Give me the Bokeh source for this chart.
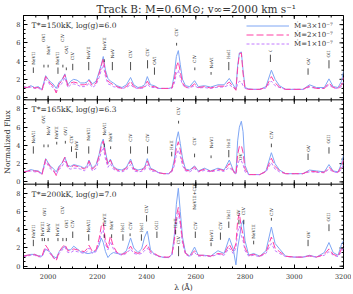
import math
from bokeh.plotting import figure
from bokeh.models import FixedTicker, Range1d, Span, Legend, LegendItem
from bokeh.core.properties import value
from bokeh.embed import file_html
from bokeh.resources import INLINE

# ---------------- data ----------------
wavelength = [
    1900, 1915, 1930, 1945, 1960, 1975, 1990, 2000, 2010, 2020,
    2033, 2045, 2055, 2068, 2080, 2092, 2104, 2118, 2132, 2147,
    2158, 2166, 2180, 2195, 2207, 2216, 2224, 2233, 2243, 2253,
    2265, 2280, 2300, 2318, 2335, 2348, 2365, 2380, 2392, 2403,
    2416, 2432, 2450, 2470, 2490, 2503, 2513, 2521, 2529, 2537,
    2546, 2558, 2575, 2595, 2610, 2635, 2660, 2690, 2715, 2736,
    2752, 2763, 2770, 2777, 2785, 2792, 2800, 2815, 2835, 2860,
    2885, 2907, 2922, 2940, 2965, 3000, 3035, 3062, 3090, 3122,
    3141, 3158, 3178, 3192, 3200]

# T*=150kK, log(g)=6.0
flux150_m3 = [
    1.2, 1.1, 1.3, 1.1, 1.2, 0.9, 2.4, 2.0, 1.7, 1.5,
    1.0, 1.7, 1.9, 2.6, 1.4, 1.8, 2.0, 1.9, 1.6, 1.6,
    1.7, 2.0, 1.5, 1.8, 2.8, 3.6, 4.5, 3.0, 2.1, 1.8,
    1.6, 1.3, 1.1, 1.4, 2.2, 1.4, 1.1, 1.2, 1.4, 2.3,
    1.4, 1.3, 1.0, 1.0, 1.0, 1.1, 2.6, 4.5, 5.15, 3.6,
    2.0, 1.3, 1.2, 1.85, 1.2, 1.3, 1.15, 1.4, 1.4, 2.1,
    1.4, 0.9, 3.5, 4.9, 5.0, 3.0, 1.1, 0.95, 0.9, 0.9,
    1.2, 3.0, 2.0, 1.3, 0.9, 0.9, 0.9, 1.4, 1.1, 1.1,
    2.05, 1.2, 1.1, 1.8, 2.9]
flux150_m2 = [
    1.15, 1.1, 1.25, 1.05, 1.1, 0.8, 2.3, 1.9, 1.5, 1.3,
    0.5, 1.5, 1.8, 2.5, 1.3, 1.6, 1.7, 1.6, 1.4, 1.4,
    1.5, 1.9, 1.3, 1.6, 2.6, 3.5, 4.3, 2.7, 1.8, 1.6,
    1.4, 1.2, 1.0, 1.2, 1.8, 1.2, 1.0, 1.1, 1.2, 1.8,
    1.2, 1.2, 1.0, 1.0, 1.0, 1.05, 2.0, 3.4, 3.95, 2.8,
    1.6, 1.15, 1.1, 1.5, 1.1, 1.2, 1.05, 1.25, 1.25, 1.7,
    1.2, 0.8, 3.2, 4.8, 4.9, 2.6, 1.0, 0.9, 0.9, 0.9,
    1.1, 2.3, 1.6, 1.15, 0.9, 0.9, 0.9, 1.25, 1.0, 1.0,
    1.6, 1.1, 1.0, 1.4, 2.2]
flux150_m1 = [
    1.1, 1.05, 1.15, 1.0, 1.05, 0.8, 2.0, 1.7, 1.3, 1.1,
    0.7, 1.3, 1.5, 2.2, 1.1, 1.4, 1.5, 1.4, 1.2, 1.2,
    1.3, 1.6, 1.1, 1.4, 2.2, 3.0, 3.6, 2.3, 1.5, 1.4,
    1.2, 1.1, 1.0, 1.1, 1.4, 1.1, 1.0, 1.0, 1.1, 1.5,
    1.1, 1.1, 1.0, 1.0, 1.0, 1.0, 1.6, 2.6, 3.0, 2.2,
    1.4, 1.1, 1.05, 1.3, 1.05, 1.1, 1.0, 1.15, 1.15, 1.4,
    1.1, 0.9, 1.5, 1.8, 1.7, 1.3, 1.0, 0.9, 0.9, 0.9,
    1.05, 1.8, 1.3, 1.1, 0.9, 0.9, 0.9, 1.15, 1.0, 1.0,
    1.4, 1.05, 1.0, 1.2, 1.7]

# T*=165kK, log(g)=6.3
flux165_m3 = [
    1.1, 1.2, 1.35, 1.25, 1.2, 0.9, 2.55, 2.1, 1.7, 1.5,
    1.1, 1.75, 2.0, 2.7, 1.8, 1.7, 1.9, 1.8, 1.7, 1.5,
    1.8, 2.4, 1.5, 1.9, 3.0, 4.2, 4.7, 3.3, 2.0, 2.5,
    1.7, 1.4, 1.3, 1.6, 2.5, 1.5, 1.3, 1.4, 1.6, 2.55,
    1.5, 1.3, 1.0, 0.9, 0.9, 1.3, 2.5, 4.6, 5.5, 4.2,
    2.6, 1.4, 1.3, 1.75, 1.2, 1.5, 1.2, 1.5, 1.3, 2.4,
    1.3, 0.9, 4.5, 6.0, 6.65, 5.5, 1.8, 0.8, 0.8, 0.8,
    1.2, 3.2, 2.0, 1.3, 0.9, 0.9, 0.9, 1.3, 1.2, 1.1,
    1.9, 1.2, 1.1, 2.0, 2.9]
flux165_m2 = [
    1.1, 1.15, 1.3, 1.2, 1.15, 0.8, 2.5, 2.0, 1.6, 1.4,
    0.7, 1.6, 1.9, 2.7, 1.7, 1.6, 1.8, 1.7, 1.6, 1.4,
    1.7, 2.3, 1.4, 1.8, 2.8, 3.9, 4.5, 3.0, 1.9, 2.4,
    1.6, 1.3, 1.2, 1.5, 2.3, 1.4, 1.2, 1.3, 1.5, 2.3,
    1.4, 1.25, 1.0, 0.9, 0.9, 1.2, 2.1, 3.7, 4.4, 3.5,
    2.2, 1.3, 1.2, 1.65, 1.15, 1.4, 1.15, 1.4, 1.25, 2.0,
    1.2, 0.8, 3.0, 3.9, 4.0, 3.2, 1.4, 0.8, 0.8, 0.8,
    1.15, 2.6, 1.7, 1.2, 0.9, 0.9, 0.9, 1.2, 1.1, 1.05,
    1.6, 1.15, 1.05, 1.7, 2.4]
flux165_m1 = [
    1.05, 1.1, 1.2, 1.1, 1.1, 0.8, 2.2, 1.8, 1.4, 1.2,
    0.8, 1.4, 1.6, 2.3, 1.5, 1.4, 1.5, 1.5, 1.4, 1.2,
    1.5, 2.0, 1.2, 1.5, 2.4, 3.3, 3.8, 2.5, 1.6, 2.0,
    1.4, 1.2, 1.1, 1.3, 1.9, 1.2, 1.1, 1.15, 1.3, 1.9,
    1.2, 1.15, 1.0, 0.9, 0.9, 1.1, 1.8, 3.0, 3.5, 2.8,
    1.8, 1.2, 1.1, 1.45, 1.1, 1.25, 1.1, 1.25, 1.15, 1.6,
    1.1, 0.85, 1.9, 2.4, 2.3, 1.9, 1.1, 0.8, 0.8, 0.8,
    1.1, 2.1, 1.4, 1.1, 0.9, 0.9, 0.9, 1.1, 1.05, 1.0,
    1.4, 1.1, 1.0, 1.4, 2.0]

# T*=200kK, log(g)=7.0
flux200_m3 = [
    1.15, 1.2, 1.3, 1.3, 1.15, 1.1, 1.85, 1.7, 1.5, 1.1,
    0.9, 1.6, 1.9, 2.2, 1.8, 1.8, 2.2, 1.9, 1.6, 1.5,
    1.4, 1.4, 1.5, 1.7, 2.3, 3.1, 2.6, 1.6, 0.95, 1.3,
    1.5, 1.4, 1.3, 1.7, 3.1, 2.0, 1.5, 1.9, 3.2, 3.85,
    1.8, 1.3, 1.1, 0.95, 0.95, 1.3, 3.5, 6.8, 8.55, 6.0,
    3.2, 1.5, 1.1, 2.1, 1.2, 1.2, 1.1, 1.7, 1.4, 3.1,
    1.9, 0.15, 2.0, 3.1, 4.6, 5.0, 2.8, 1.2, 1.4, 1.1,
    1.7, 4.3, 2.5, 1.9, 1.1, 1.0, 1.0, 1.2, 1.0, 1.5,
    2.6, 1.5, 1.2, 2.4, 2.8]
flux200_m2 = [
    1.1, 1.2, 1.25, 1.3, 1.1, 1.1, 2.3, 1.9, 1.4, 1.0,
    0.6, 1.6, 2.0, 2.4, 1.7, 1.7, 1.9, 1.8, 1.7, 1.6,
    1.9, 2.3, 1.6, 1.8, 3.0, 4.4, 4.75, 2.8, 2.0, 3.3,
    2.2, 1.5, 1.3, 1.5, 2.2, 1.6, 1.4, 1.6, 2.0, 2.4,
    1.6, 1.4, 1.1, 1.0, 1.0, 1.3, 3.0, 5.5, 6.45, 5.0,
    2.8, 1.4, 1.1, 1.7, 1.2, 1.2, 1.1, 1.4, 1.3, 2.4,
    1.6, 2.5, 5.0, 5.8, 4.2, 3.5, 2.0, 1.2, 1.3, 1.1,
    1.5, 3.2, 2.0, 1.6, 1.1, 1.0, 1.0, 1.15, 1.0, 1.3,
    1.9, 1.3, 1.1, 1.9, 2.3]
flux200_m1 = [
    1.05, 1.1, 1.2, 1.2, 1.05, 1.0, 2.0, 1.7, 1.3, 0.95,
    0.7, 1.4, 1.7, 2.1, 1.5, 1.5, 1.7, 1.6, 1.5, 1.4,
    1.6, 2.0, 1.4, 1.6, 2.6, 3.6, 4.0, 2.4, 1.8, 2.7,
    1.9, 1.4, 1.2, 1.4, 1.9, 1.4, 1.3, 1.4, 1.7, 2.0,
    1.4, 1.3, 1.05, 1.0, 1.0, 1.2, 2.7, 5.0, 5.8, 4.6,
    2.5, 1.3, 1.05, 1.5, 1.1, 1.15, 1.05, 1.3, 1.2, 2.0,
    1.4, 2.0, 3.8, 4.4, 3.4, 2.8, 1.7, 1.1, 1.2, 1.05,
    1.4, 2.5, 1.7, 1.4, 1.05, 1.0, 1.0, 1.1, 1.0, 1.2,
    1.6, 1.2, 1.05, 1.6, 2.0]

# line identifications: wavelength, tick bottom, tick top, label start, name
ids150_wl = [1940, 1983, 2000, 2040, 2060, 2074, 2100, 2165, 2228, 2261,
             2335, 2404, 2432, 2522, 2596, 2662, 2734, 2903, 3056, 3141]
ids150_lo = [2.7, 3.3, 3.3, 2.6, 3.3, 3.0, 3.0, 3.0, 3.9, 3.0,
             3.0, 3.2, 2.5, 5.7, 3.0, 2.5, 3.0, 3.9, 2.5, 3.2]
ids150_hi = [3.3, 3.6, 3.6, 3.3, 3.6, 3.3, 3.7, 3.9, 4.2, 3.9,
             3.9, 4.1, 3.3, 6.0, 3.3, 2.8, 3.9, 4.7, 3.2, 4.1]
ids150_lab = [3.6, 6.1, 4.7, 3.6, 6.1, 4.8, 4.1, 4.2, 5.2, 4.3,
              4.3, 4.5, 3.6, 6.7, 3.8, 3.2, 4.2, 5.0, 3.6, 4.4]
ids150_txt = ["NeVII", "OVI", "NeV", "NeVII", "CIV", "OVI", "CIV", "NeVII", "NeVII", "NeV",
              "CIV", "CIV", "OVI", "CIV", "CIV", "NeVI", "HeII", "CIV", "OV", "OIII"]

ids165_wl = [1940, 1983, 2000, 2035, 2070, 2095, 2115, 2165, 2228, 2254,
             2335, 2404, 2502, 2530, 2595, 2662, 2734, 2780, 2907, 3056, 3141]
ids165_lo = [3.1, 3.8, 3.8, 4.1, 4.2, 3.3, 2.6, 3.1, 3.8, 3.6,
             3.1, 3.1, 2.8, 6.4, 2.7, 2.6, 2.7, 2.4, 3.8, 2.4, 3.1]
ids165_hi = [3.9, 4.1, 4.1, 4.4, 4.5, 3.9, 3.3, 3.9, 4.2, 3.9,
             3.9, 3.9, 3.3, 6.7, 3.1, 2.9, 3.5, 2.4, 4.2, 3.1, 3.8]
ids165_lab = [4.2, 6.4, 5.1, 4.7, 5.1, 4.2, 3.5, 4.5, 5.1, 4.4,
              4.4, 4.4, 3.5, 7.3, 4.0, 3.7, 3.7, 2.4, 4.7, 3.3, 4.2]
ids165_txt = ["NeVII", "OVI", "NeV", "NeVII", "OVI", "CIV", "NeV", "NeVII", "NeVII", "NeV",
              "CIV", "CIV", "HeII", "CIV", "CIV", "NeVI", "HeII", "OV", "CIV", "OV", "OIII"]

ids200_wl = [1940, 1976, 1985, 2000, 2040, 2060, 2074, 2100, 2165, 2228,
             2258, 2304, 2333, 2379, 2400, 2442, 2518, 2530, 2593, 2598,
             2662, 2700, 2734, 2775, 2795, 2835, 2907, 3056, 3141]
ids200_lo = [2.2, 2.75, 2.75, 2.75, 2.75, 2.75, 2.75, 3.1, 2.8, 3.1,
             3.1, 2.8, 3.3, 2.8, 4.9, 3.1, 3.5, 1.1, 6.0, 3.1,
             2.2, 2.9, 4.2, 4.6, 4.6, 2.4, 5.0, 2.2, 3.85]
ids200_hi = [2.9, 3.1, 3.1, 3.1, 3.1, 3.1, 3.1, 3.8, 3.5, 3.5,
             3.5, 3.5, 3.6, 3.5, 5.6, 3.8, 4.0, 2.2, 6.0, 3.8,
             2.6, 3.7, 4.9, 5.1, 5.1, 2.8, 5.3, 2.9, 4.6]
ids200_lab = [3.1, 3.3, 5.5, 3.7, 3.3, 5.7, 4.2, 4.2, 3.7, 4.4,
              4.0, 3.7, 4.0, 3.7, 5.8, 4.0, 4.2, 2.4, 6.2, 4.0,
              2.75, 4.0, 5.1, 5.5, 5.6, 3.0, 5.5, 3.1, 4.9]
ids200_txt = ["NeVII", "NeVIII", "OVI", "NeV", "NeVII", "CIV", "OVI", "CIV", "NeVII", "NeVII",
              "NeV", "HeII", "CIV", "HeII", "CIV", "OIII", "HeII", "CIV", "NeVIII+CIV", "CIV",
              "NeVI", "CIV", "HeII", "OV", "CIV", "NeVIII", "CIV", "OV", "OIII"]

panel_labels = ["T*=150kK, log(g)=6.0", "T*=165kK, log(g)=6.3", "T*=200kK, log(g)=7.0"]
legend_labels = ["Ṁ=3×10⁻⁷", "Ṁ=2×10⁻⁷", "Ṁ=1×10⁻⁷"]
x_major = [2000, 2200, 2400, 2600, 2800, 3000, 3200]
y_major = [0, 2, 4, 6, 8]

# ---------------- layout / style ----------------
FONT = "DejaVu Serif"
TXT = "#333333"
BLUE = "#7ea6f4"
PINK = "#ff3fa4"
VIOLET = "#c27bff"

SPAN = 9.25
YLO, YHI = -0.25, 9.0
FRAME_W, FRAME_H = 320, 253
YMAX = 2 * SPAN + YHI
px_x = (3200 - 1900) / FRAME_W
px_y = (YMAX - YLO) / FRAME_H

p = figure(frame_width=FRAME_W, frame_height=FRAME_H,
           x_range=Range1d(1900, 3200), y_range=Range1d(YLO, YMAX),
           output_backend="svg", toolbar_location=None,
           min_border_left=0, min_border_right=8,
           min_border_top=0, min_border_bottom=0)
p.grid.visible = False
p.outline_line_color = "black"
p.background_fill_color = "white"
p.border_fill_color = "white"

p.title.text = "Track B: M=0.6M⊙; v∞=2000 km s⁻¹"
p.title.text_font = FONT
p.title.text_font_size = "10.5px"
p.title.text_font_style = "normal"
p.title.text_color = TXT
p.title.align = "left"
p.title.offset = 73
p.title.standoff = 1

offsets = [2 * SPAN, SPAN, 0.0]
x_minor = list(range(1900, 3201, 50))
y_ticks = [o + v for o in offsets for v in y_major]
y_minor = [o + 0.5 * k for o in offsets for k in range(0, 19)]
y_over = {o + v: str(v) for o in offsets for v in y_major}


def style_axis(ax):
    ax.axis_line_color = "black"
    ax.major_tick_in = 4
    ax.major_tick_out = 0
    ax.minor_tick_in = 2
    ax.minor_tick_out = 0
    ax.major_tick_line_color = "black"
    ax.minor_tick_line_color = "black"
    ax.major_label_text_font = FONT
    ax.major_label_text_font_size = "6.5px"
    ax.major_label_text_color = TXT
    ax.axis_label_text_font = FONT
    ax.axis_label_text_font_size = "7.5px"
    ax.axis_label_text_font_style = "normal"
    ax.axis_label_text_color = TXT


xb = p.xaxis[0]
xb.ticker = FixedTicker(ticks=x_major, minor_ticks=x_minor)
style_axis(xb)
xb.major_label_standoff = 5
xb.axis_label = "λ (Å)"
xb.axis_label_standoff = 1

yl = p.yaxis[0]
yl.ticker = FixedTicker(ticks=y_ticks, minor_ticks=y_minor)
yl.major_label_overrides = y_over
style_axis(yl)
yl.major_label_standoff = 3
yl.axis_label = "Normalized Flux"
yl.axis_label_standoff = 1

# ticks along the top and right frame edges and along the panel separators
x_lists = ((x_minor, 2), (x_major, 4))
for xs, ln in x_lists:
    p.segment(x0=xs, y0=[YMAX] * len(xs), x1=xs, y1=[YMAX - ln * px_y] * len(xs),
              line_color="black", line_width=1)
for ys, ln in ((y_minor, 2), (y_ticks, 4)):
    p.segment(x0=[3200] * len(ys), y0=ys, x1=[3200 - ln * px_x] * len(ys), y1=ys,
              line_color="black", line_width=1)
for k in range(2):
    lev = k * SPAN + YHI
    p.add_layout(Span(location=lev, dimension="width", line_color="black", line_width=1))
    for xs, ln in x_lists:
        p.segment(x0=xs, y0=[lev - ln * px_y] * len(xs), x1=xs, y1=[lev + ln * px_y] * len(xs),
                  line_color="black", line_width=1)

spectra = [
    (flux150_m3, flux150_m2, flux150_m1),
    (flux165_m3, flux165_m2, flux165_m1),
    (flux200_m3, flux200_m2, flux200_m1),
]
ids = [
    (ids150_wl, ids150_lo, ids150_hi, ids150_lab, ids150_txt),
    (ids165_wl, ids165_lo, ids165_hi, ids165_lab, ids165_txt),
    (ids200_wl, ids200_lo, ids200_hi, ids200_lab, ids200_txt),
]

legend_renderers = None
for i, off in enumerate(offsets):
    f3, f2, f1 = spectra[i]
    r3 = p.line(wavelength, [v + off for v in f3], line_color=BLUE, line_width=1)
    r1 = p.line(wavelength, [v + off for v in f1], line_color=VIOLET, line_width=1,
                line_dash="3 2")
    r2 = p.line(wavelength, [v + off for v in f2], line_color=PINK, line_width=1,
                line_dash="7 3")
    if i == 0:
        legend_renderers = [r3, r2, r1]
    wl, lo, hi, lab, txt = ids[i]
    p.segment(x0=wl, y0=[v + off for v in lo], x1=wl, y1=[v + off for v in hi],
              line_color="black", line_width=0.7)
    p.text(x=wl, y=[v + off for v in lab], text=txt, angle=math.pi / 2,
           text_font=value(FONT), text_font_size=value("4.3px"),
           text_align="left", text_baseline="middle", text_color="#222222")
    p.text(x=[1933], y=[7.9 + off], text=[panel_labels[i]],
           text_font=value(FONT), text_font_size=value("7.5px"),
           text_align="left", text_baseline="middle", text_color=TXT)

legend = Legend(items=[LegendItem(label=lab, renderers=[r])
                       for lab, r in zip(legend_labels, legend_renderers)],
                location=(221, FRAME_H - 35))
legend.label_text_font = FONT
legend.label_text_font_size = "7px"
legend.label_text_color = TXT
legend.glyph_width = 43
legend.glyph_height = 9
legend.label_height = 8
legend.label_standoff = 5
legend.spacing = 0
legend.padding = 2
legend.margin = 0
legend.border_line_alpha = 0
legend.background_fill_color = "white"
legend.background_fill_alpha = 1
p.add_layout(legend)

open("out.html", "w").write(file_html(p, INLINE))
